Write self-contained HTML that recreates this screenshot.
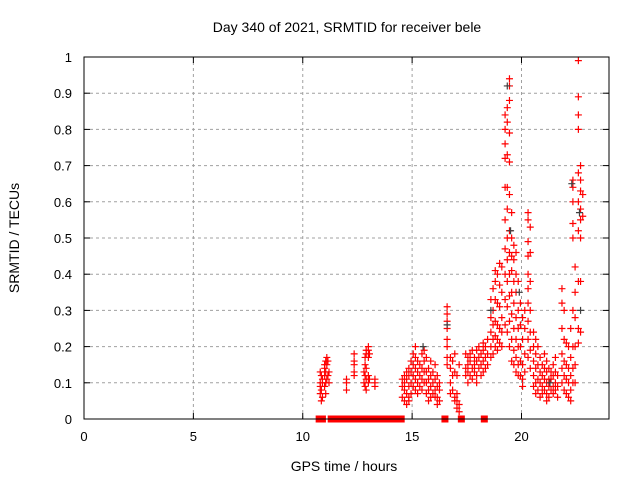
<!DOCTYPE html>
<html><head><meta charset="utf-8"><style>
html,body{margin:0;padding:0;background:#fff}
svg{display:block;font-family:"Liberation Sans",sans-serif}
</style></head><body>
<svg id="chart" width="640" height="480" viewBox="0 0 640 480">
<rect width="640" height="480" fill="#fff"/>
<text x="347" y="32" font-size="14" text-anchor="middle">Day 340 of 2021, SRMTID for receiver bele</text>
<text x="344" y="471" font-size="14" text-anchor="middle">GPS time / hours</text>
<text transform="translate(19,238) rotate(-90)" font-size="14" text-anchor="middle">SRMTID / TECUs</text>
<g id="grid"></g>
<g id="ticks"></g>
<g id="red"></g>
<g id="gray"></g>
<rect x="84" y="57" width="525" height="362" fill="none" stroke="#000" stroke-width="1"/>
</svg>
<script>
const xTicks = [0,5,10,15,20];
const yTicks = [0,0.1,0.2,0.3,0.4,0.5,0.6,0.7,0.8,0.9,1];
const yTickLabels = ["0","0.1","0.2","0.3","0.4","0.5","0.6","0.7","0.8","0.9","1"];
const zeroTimes = [10.75,10.85,10.9,11.3,11.4,11.5,11.6,11.7,11.8,11.9,12.0,12.1,12.2,12.3,12.6,12.7,12.85,13.05,13.15,13.25,13.35,13.5,13.6,13.7,13.85,13.95,14.05,14.15,14.25,14.35,14.5,16.5,17.25,18.3];
const clusterTimes = [10.8,10.85,10.9,11.0,11.05,11.1,11.15,11.2,12.0,12.35,12.8,12.85,12.9,13.0,13.05,13.3,
14.55,14.65,14.75,14.85,14.95,15.05,15.15,15.25,15.35,15.45,15.55,15.65,15.75,15.85,15.95,16.05,16.15,16.25,
16.6,16.75,16.85,16.95,17.05,17.15,
17.45,17.55,17.65,17.75,17.85,17.95,18.05,18.15,18.25,18.35,18.45,
18.6,18.7,18.8,18.9,19.0,19.1,
19.25,19.35,19.45,19.55,19.65,19.75,19.85,19.95,20.05,20.15,20.3,20.4,
20.55,20.65,20.75,20.85,20.95,21.05,21.15,21.25,21.35,21.45,21.55,21.65,
21.85,21.95,22.05,22.15,22.25,22.35,
22.45,22.6,22.7,22.8];
const clusterValues = [
[0.13,0.10,0.09,0.07],[0.12,0.08,0.05],[0.10,0.11,0.06],[0.15,0.14,0.12,0.09],[0.16,0.13,0.10,0.07],[0.17,0.15,0.11],[0.16,0.12],[0.10,0.13],
[0.11,0.08,0.10],[0.18,0.16,0.15,0.13,0.12],[0.13,0.10],[0.17,0.15,0.12,0.09],[0.19,0.18,0.14,0.11,0.08],[0.19,0.20,0.17,0.12,0.10],[0.18,0.11],[0.11,0.10,0.09],
[0.11,0.09,0.06],[0.12,0.10,0.08,0.05],[0.13,0.11,0.07,0.04],[0.14,0.12,0.09,0.06,0.05],[0.16,0.13,0.10,0.07],[0.18,0.15,0.12,0.09],[0.20,0.17,0.14,0.11,0.08],[0.16,0.13,0.10,0.07],[0.15,0.12,0.09],[0.18,0.14,0.11,0.08],[0.19,0.16,0.13,0.10],[0.17,0.13,0.10,0.07],[0.14,0.11,0.08,0.05],[0.16,0.12,0.09,0.06],[0.13,0.10,0.07],[0.15,0.11,0.08,0.06],[0.12,0.09,0.06,0.04],[0.10,0.08,0.05],
[0.31,0.29,0.27,0.25,0.22,0.20,0.17,0.15],[0.17,0.14,0.10,0.07],[0.16,0.12,0.08],[0.18,0.13,0.06,0.05],[0.12,0.07,0.05,0.03],[0.15,0.04,0.02],
[0.18,0.14,0.12],[0.17,0.15,0.13,0.10],[0.18,0.16,0.12],[0.19,0.14,0.11],[0.17,0.15,0.13],[0.19,0.16,0.12,0.10],[0.20,0.17,0.14],[0.18,0.15,0.12],[0.21,0.19,0.16,0.13],[0.20,0.17,0.14],[0.22,0.18,0.15],
[0.33,0.28,0.24,0.20,0.17],[0.36,0.30,0.26,0.22,0.18],[0.41,0.38,0.33,0.27,0.23,0.20],[0.40,0.32,0.26,0.22,0.19],[0.43,0.37,0.31,0.25,0.21],[0.42,0.35,0.28,0.24,0.20],
[0.84,0.80,0.76,0.72,0.64,0.55,0.47,0.40,0.33,0.26],[0.86,0.82,0.73,0.64,0.58,0.50,0.44,0.38,0.31,0.24],[0.94,0.92,0.88,0.79,0.71,0.62,0.52,0.46,0.40,0.34,0.27,0.20],[0.57,0.50,0.45,0.41,0.35,0.29,0.22,0.16],[0.48,0.44,0.38,0.32,0.25,0.19,0.15],[0.46,0.40,0.35,0.28,0.22,0.17,0.13],[0.38,0.30,0.25,0.20,0.15,0.12],[0.32,0.26,0.20,0.16,0.12],[0.28,0.22,0.15,0.11,0.09],[0.30,0.25,0.18,0.13],[0.57,0.55,0.49,0.45,0.40,0.36,0.32,0.27,0.22,0.17],[0.53,0.46,0.38,0.30,0.24,0.19,0.14],
[0.24,0.20,0.16,0.12,0.09],[0.22,0.18,0.14,0.10,0.07],[0.20,0.15,0.11,0.08],[0.17,0.13,0.10,0.06],[0.15,0.12,0.09,0.07],[0.18,0.14,0.11,0.08],[0.16,0.13,0.10,0.07,0.05],[0.14,0.11,0.09,0.06],[0.13,0.11,0.08],[0.15,0.12,0.09,0.07],[0.17,0.13,0.10,0.08],[0.12,0.09,0.06],
[0.36,0.32,0.25,0.18,0.14,0.10],[0.30,0.22,0.16,0.12,0.08],[0.21,0.15,0.11,0.07],[0.20,0.14,0.10,0.06],[0.25,0.17,0.12,0.08,0.05],[0.66,0.64,0.60,0.54,0.50,0.30,0.20,0.14,0.10],
[0.42,0.35,0.28,0.20,0.15,0.10],[0.99,0.89,0.84,0.80,0.68,0.60,0.52,0.38,0.25,0.21],[0.70,0.66,0.63,0.58,0.55,0.50,0.38,0.24],[0.62,0.56]
];
const grayTimes = [19.35,19.5,22.3,22.7,22.65,15.5,18.6,19.9,21.3,16.6];
const grayValues = [0.92,0.52,0.65,0.30,0.57,0.20,0.30,0.35,0.10,0.26];

const NS="http://www.w3.org/2000/svg";
const X0=84,X1=609,Y0=419,Y1=57,XMAX=24;
function sx(t){return X0+(t/XMAX)*(X1-X0);}
function sy(v){return Y0-v*(Y0-Y1);}
function mk(tag,attrs,parent){const e=document.createElementNS(NS,tag);for(const k in attrs)e.setAttribute(k,attrs[k]);parent.appendChild(e);return e;}
const grid=document.getElementById('grid'),ticks=document.getElementById('ticks');
xTicks.forEach((t,i)=>{
  const x=sx(t);
  if(t>0){const g=mk('line',{x1:x,y1:Y0,x2:x,y2:Y1,stroke:'#a0a0a0','stroke-dasharray':'3,3'},grid);
  
  }
  mk('line',{x1:x,y1:Y0,x2:x,y2:Y0-6,stroke:'#000'},ticks);
  mk('line',{x1:x,y1:Y1,x2:x,y2:Y1+6,stroke:'#000'},ticks);
  const lb=mk('text',{x:x,y:441,'font-size':13,'text-anchor':'middle'},ticks);
  lb.textContent=String(t);
  
  
});
yTicks.forEach((v,i)=>{
  const y=sy(v);
  if(v>0&&v<1){const g=mk('line',{x1:X0,y1:y,x2:X1,y2:y,stroke:'#a0a0a0','stroke-dasharray':'3,3'},grid);
  
  }
  mk('line',{x1:X0,y1:y,x2:X0+6,y2:y,stroke:'#000'},ticks);
  mk('line',{x1:X1,y1:y,x2:X1-6,y2:y,stroke:'#000'},ticks);
  const lb=mk('text',{x:72,y:y+5,'font-size':13,'text-anchor':'end'},ticks);
  lb.textContent=yTickLabels[i];
  
  
});
function cross(t,v,color,parent){
  const x=sx(t),y=sy(v);
  const p=mk('path',{d:`M${x-3.5},${y}H${x+3.5}M${x},${y-3.5}V${y+3.5}`,stroke:color,'stroke-width':1.2,fill:'none'},parent);
  
  
}
const red=document.getElementById('red'),gray=document.getElementById('gray');
zeroTimes.forEach(t=>{
  const x=sx(t);
  const r=mk('rect',{x:x-3.5,y:Y0-3.5,width:7,height:7,fill:'#ff0000'},red);
  
  
});
clusterTimes.forEach((t,i)=>{clusterValues[i].forEach(v=>cross(t,v,'#ff0000',red));});
grayTimes.forEach((t,i)=>cross(t,grayValues[i],'#404040',gray));
</script>
</body></html>
